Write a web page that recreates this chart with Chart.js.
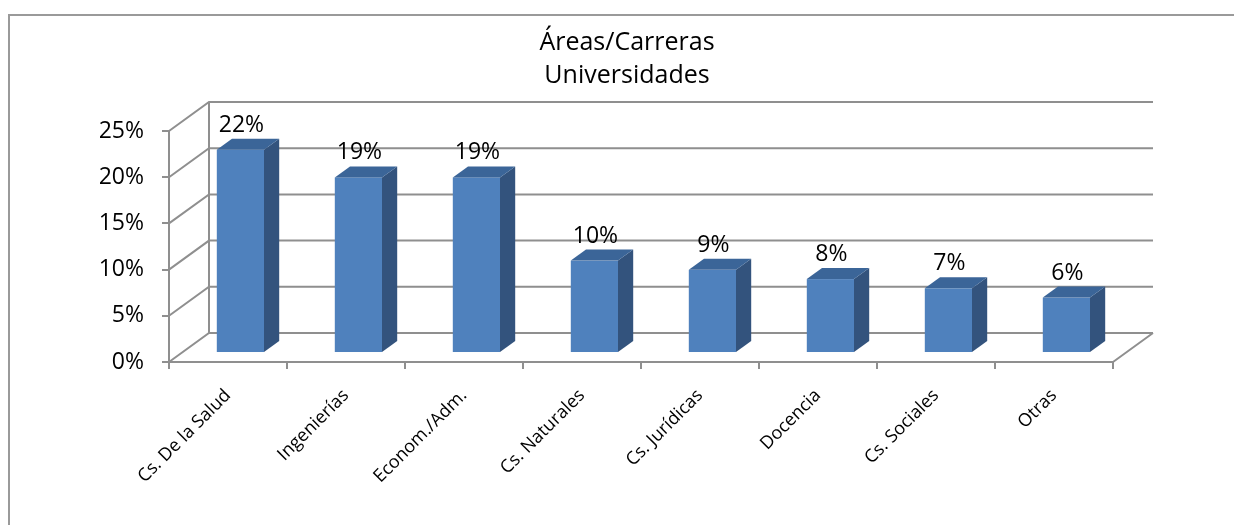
<!DOCTYPE html>
<html>
<head>
<meta charset="utf-8">
<script src="https://cdn.jsdelivr.net/npm/chart.js@4/dist/chart.umd.min.js"></script>
<style>
  body { margin: 0; background: #fff; }
  #frame { position: absolute; left: 8px; top: 14px; width: 1240px; height: 520px;
           border-left: 2px solid #9a9a9a; border-top: 2px solid #9a9a9a; }
  #chart { position: absolute; left: 0; top: 0; }
</style>
</head>
<body>
<div id="frame"></div>
<canvas id="chart" width="1234" height="525"></canvas>
<script>
// ============================= data

const titleLines = ['Áreas/Carreras', 'Universidades']
const categories = ['Cs. De la Salud', 'Ingenierías', 'Econom./Adm.', 'Cs. Naturales',
                    'Cs. Jurídicas', 'Docencia', 'Cs. Sociales', 'Otras']
const shares = [0.22, 0.19, 0.19, 0.10, 0.09, 0.08, 0.07, 0.06]
const yTicks = [0, 0.05, 0.10, 0.15, 0.20, 0.25]

const FONT = '"Open Sans", "Noto Sans", sans-serif'
const GRID = '#8f8f8f'

// depth of the 3d box (back wall offset) and where the bars sit inside it
const DEPTH = { dx: 40, dy: -29 }
const BAR_FRONT = 0.31
const BAR_BACK = 0.69

const pct = (v) => Math.round(v * 100) + '%'

// ============================= title (centred on the whole frame, not the plot)

const frameTitle = {
    id: 'frameTitle',
    afterDraw: (chart) => {
        const ctx = chart.ctx
        ctx.save()
        ctx.fillStyle = '#000'
        ctx.font = '25px ' + FONT
        ctx.textAlign = 'center'
        ctx.textBaseline = 'middle'
        titleLines.forEach((line, i) => ctx.fillText(line, 627, 43 + i * 32.5))
        ctx.restore()
    }
}

// ============================= walls, floor and gridlines

const walls3d = {
    id: 'walls3d',
    beforeDatasetsDraw: (chart) => {
        const { ctx, chartArea: a, scales: { y } } = chart
        ctx.save()
        ctx.strokeStyle = GRID
        ctx.lineWidth = 2
        ctx.beginPath()
        yTicks.forEach(v => {
            const py = y.getPixelForValue(v)
            ctx.moveTo(a.left, py)                       // side wall
            ctx.lineTo(a.left + DEPTH.dx, py + DEPTH.dy)
            ctx.lineTo(a.right + DEPTH.dx, py + DEPTH.dy) // back wall
        })
        const y0 = y.getPixelForValue(0), yMax = y.getPixelForValue(yTicks[yTicks.length - 1])
        ctx.moveTo(a.left + DEPTH.dx, y0 + DEPTH.dy)
        ctx.lineTo(a.left + DEPTH.dx, yMax + DEPTH.dy)
        ctx.moveTo(a.right, y0)                          // floor right edge
        ctx.lineTo(a.right + DEPTH.dx, y0 + DEPTH.dy)
        ctx.stroke()
        ctx.restore()
    }
}

// ============================= 3d bars and value labels

const bars3d = {
    id: 'bars3d',
    afterDatasetsDraw: (chart) => {
        const ctx = chart.ctx
        const meta = chart.getDatasetMeta(0)
        const fx = DEPTH.dx * BAR_FRONT, fy = DEPTH.dy * BAR_FRONT
        const bx = DEPTH.dx * (BAR_BACK - BAR_FRONT), by = DEPTH.dy * (BAR_BACK - BAR_FRONT)
        ctx.save()
        meta.data.forEach((bar, i) => {
            const l = bar.x - bar.width / 2 + fx, r = bar.x + bar.width / 2 + fx
            const t = bar.y + fy, b = bar.base + fy

            ctx.fillStyle = '#4f81bd' // front
            ctx.fillRect(l, t, r - l, b - t)

            ctx.fillStyle = '#33537d' // side
            ctx.beginPath()
            ctx.moveTo(r, t); ctx.lineTo(r + bx, t + by); ctx.lineTo(r + bx, b + by); ctx.lineTo(r, b)
            ctx.closePath(); ctx.fill()

            ctx.fillStyle = '#3b6598' // top
            ctx.beginPath()
            ctx.moveTo(l, t); ctx.lineTo(l + bx, t + by); ctx.lineTo(r + bx, t + by); ctx.lineTo(r, t)
            ctx.closePath(); ctx.fill()

            ctx.fillStyle = '#000'
            ctx.font = '23px ' + FONT
            ctx.textAlign = 'center'
            ctx.textBaseline = 'alphabetic'
            ctx.fillText(pct(shares[i]), (l + r) / 2 + 1, t + by - 7)
        })
        ctx.restore()
    }
}

// ============================= chart

new Chart(document.getElementById('chart'), {
    type: 'bar',
    data: {
        labels: categories,
        datasets: [{
            data: shares,
            backgroundColor: 'transparent',
            borderWidth: 0,
            categoryPercentage: 1,
            barPercentage: 0.4
        }]
    },
    options: {
        responsive: false,
        animation: false,
        layout: { padding: { left: 100, right: 121, top: 131, bottom: 0 } },
        plugins: {
            legend: { display: false },
            tooltip: { enabled: false },
            title: { display: false }
        },
        scales: {
            x: {
                afterFit: (s) => { s.height = 163 },
                grid: { offset: true, drawOnChartArea: false, drawTicks: true, tickLength: 7, color: GRID, lineWidth: 2 },
                border: { color: GRID, width: 2 },
                ticks: { maxRotation: 45, minRotation: 45, padding: 16, color: '#000', font: { family: FONT, size: 18 } }
            },
            y: {
                min: 0,
                max: 0.25,
                afterFit: (s) => { s.width = 69 },
                afterBuildTicks: (s) => { s.ticks = yTicks.map(v => ({ value: v })) },
                grid: { drawOnChartArea: false, drawTicks: true, tickLength: 7, color: GRID, lineWidth: 2 },
                border: { color: GRID, width: 2 },
                ticks: { padding: 18, color: '#000', font: { family: FONT, size: 23 }, callback: (v) => pct(v) }
            }
        }
    },
    plugins: [frameTitle, walls3d, bars3d]
})
</script>
</body>
</html>
